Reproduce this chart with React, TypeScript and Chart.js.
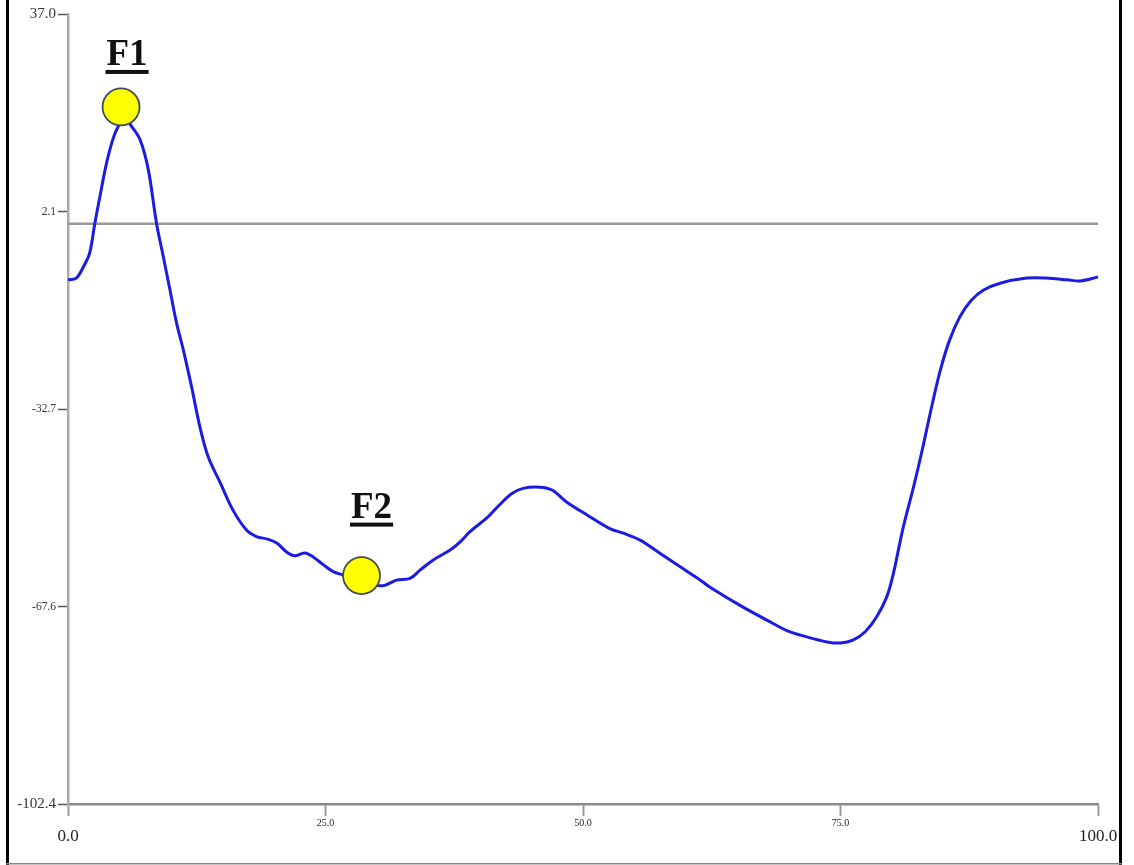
import React, { useEffect, useRef } from "react";
import { Chart, registerables } from "chart.js";

Chart.register(...registerables);

// ---- data ----
const xValues = [
  0, 0.8, 1.5, 2.1, 2.6, 3.1, 3.6, 4.1, 4.7, 5.5, 6.2, 7.0, 7.8, 8.6, 9.25, 9.9,
  10.55, 11.2, 12.0, 12.8, 13.6, 14.8, 16.0, 17.35, 18.3, 19.45, 20.3, 21.2, 22.0,
  23.0, 23.8, 24.8, 25.75, 26.7, 28.5, 30.5, 31.9, 33.2, 34.2, 35.5, 37.1, 38.1,
  39.0, 40.8, 41.9, 43.1, 44.2, 45.8, 47.0, 48.4, 50.4, 52.6, 53.9, 55.5, 57.5,
  59.4, 61.4, 62.3, 65.2, 67.8, 69.8, 71.7, 73.7, 75.0, 76.2, 77.4, 78.5, 79.5,
  80.1, 81.1, 82.1, 83.0, 83.85, 84.7, 85.6, 86.6, 87.7, 88.9, 90.5, 93.1, 95.0,
  97.0, 98.3, 100,
];
const yValues = [
  -9.9, -9.6, -7.6, -5.2, 0.0, 4.8, 9.5, 13.3, 16.5, 18.6, 17.1, 14.8, 9.5, 0.0,
  -5.8, -11.7, -17.6, -22.3, -28.8, -35.8, -41.1, -45.8, -50.5, -54.1, -55.2,
  -55.7, -56.4, -57.9, -58.6, -58.1, -58.8, -60.2, -61.4, -62.0, -63.2, -63.9,
  -62.9, -62.6, -61.1, -59.3, -57.6, -56.1, -54.4, -51.7, -49.6, -47.6, -46.7,
  -46.5, -47.0, -49.1, -51.4, -53.8, -54.6, -55.8, -58.2, -60.5, -62.9, -64.1,
  -67.3, -69.9, -71.8, -72.9, -73.8, -74.0, -73.5, -72.0, -69.4, -65.8, -62.0,
  -53.5, -46.4, -39.4, -32.3, -25.8, -20.5, -16.4, -13.5, -11.7, -10.5, -9.6,
  -9.6, -9.9, -10.1, -9.4,
];
const markerX = [5.15, 28.5];
const markerY = [20.6, -62.1];
const markerLabels = ["F1", "F2"];
const referenceY = 0;
const xTicks = [0, 25, 50, 75, 100];
const yTicks = [-102.4, -67.6, -32.7, 2.1, 37.0];

const SERIF = "'Liberation Serif', 'Times New Roman', serif";

export default function App() {
  const canvasRef = useRef<HTMLCanvasElement | null>(null);

  useEffect(() => {
    const canvas = canvasRef.current;
    if (!canvas) return;

    const labelOffsets = [
      { dx: 6, dy: -42 },
      { dx: 10, dy: -58 },
    ];

    const labelPlugin = {
      id: "markerLabels",
      afterDatasetsDraw(chart: any) {
        const meta = chart.getDatasetMeta(2);
        const ctx = chart.ctx;
        ctx.save();
        ctx.font = `bold 37px ${SERIF}`;
        ctx.fillStyle = "#111";
        ctx.textAlign = "center";
        ctx.textBaseline = "alphabetic";
        meta.data.forEach((pt: any, i: number) => {
          const off = labelOffsets[i];
          const cx = pt.x + off.dx;
          const by = pt.y + off.dy;
          const text = markerLabels[i];
          ctx.fillText(text, cx, by);
          const w = ctx.measureText(text).width;
          ctx.fillRect(cx - w / 2 - 1, by + 5, w + 2, 4);
        });
        ctx.restore();
      },
    };

    const framePlugin = {
      id: "frame",
      afterDraw(chart: any) {
        const ctx = chart.ctx;
        ctx.save();
        ctx.fillStyle = "#000";
        ctx.fillRect(6, 0, 3, 865);
        ctx.fillRect(1119, 0, 3, 865);
        ctx.fillStyle = "#888";
        ctx.fillRect(6, 863, 1116, 1.5);
        ctx.restore();
      },
    };

    const lineData = xValues.map((x, i) => ({ x, y: yValues[i] }));
    const refData = [
      { x: xTicks[0], y: referenceY },
      { x: xTicks[xTicks.length - 1], y: referenceY },
    ];
    const markerData = markerX.map((x, i) => ({ x, y: markerY[i] }));

    const chart = new Chart(canvas, {
      type: "line",
      data: {
        datasets: [
          {
            data: refData,
            borderColor: "#999",
            borderWidth: 2.5,
            pointRadius: 0,
            order: 3,
          },
          {
            data: lineData,
            borderColor: "#1c1ce0",
            borderWidth: 3,
            pointRadius: 0,
            tension: 0.35,
            order: 2,
          },
          {
            data: markerData,
            showLine: false,
            pointRadius: 18.5,
            pointBackgroundColor: "#ffff00",
            pointBorderColor: "#3f4a5c",
            pointBorderWidth: 1.8,
            clip: false,
            order: 1,
          } as any,
        ],
      },
      options: {
        animation: false,
        responsive: false,
        layout: {
          autoPadding: false,
          padding: { left: 0, right: 36, top: 14, bottom: 0 },
        },
        plugins: {
          legend: { display: false },
          tooltip: { enabled: false },
        },
        scales: {
          x: {
            type: "linear",
            min: 0,
            max: 100,
            afterBuildTicks: (scale: any) => {
              scale.ticks = xTicks.map((v) => ({ value: v }));
            },
            afterFit: (scale: any) => {
              scale.height = 61;
            },
            grid: {
              drawOnChartArea: false,
              drawTicks: true,
              tickLength: 12,
              tickColor: "#999",
              tickWidth: 2,
            } as any,
            border: { display: true, color: "#888", width: 2.5 },
            ticks: {
              padding: 1,
              color: "#222",
              maxRotation: 0,
              autoSkip: false,
              callback: (v: any, i: number) => {
                const s = Number(v).toFixed(1);
                return i === 0 || i === xTicks.length - 1 ? ["", s] : s;
              },
              font: (ctx: any) =>
                ctx.index === 0 || ctx.index === xTicks.length - 1
                  ? { family: SERIF, size: 17, lineHeight: "13px" }
                  : { family: SERIF, size: 10, lineHeight: 1.2 },
            },
          },
          y: {
            type: "linear",
            min: yTicks[0],
            max: yTicks[yTicks.length - 1],
            afterBuildTicks: (scale: any) => {
              scale.ticks = yTicks.map((v) => ({ value: v }));
            },
            afterFit: (scale: any) => {
              scale.width = 68;
            },
            grid: {
              drawOnChartArea: false,
              drawTicks: true,
              tickLength: 10,
              tickColor: "#555",
              tickWidth: 1.5,
            } as any,
            border: { display: true, color: "#aaa", width: 2.5 },
            ticks: {
              padding: 2,
              color: "#333",
              autoSkip: false,
              callback: (v: any) => Number(v).toFixed(1),
              font: (ctx: any) =>
                ctx.index === 0 || ctx.index === yTicks.length - 1
                  ? { family: SERIF, size: 15, lineHeight: "12px" }
                  : { family: SERIF, size: 11.5, lineHeight: "12px" },
            },
          },
        },
      },
      plugins: [labelPlugin, framePlugin],
    });

    return () => {
      chart.destroy();
    };
  }, []);

  return (
    <div
      style={{
        position: "absolute",
        left: 0,
        top: 0,
        width: 1134,
        height: 865,
        background: "#fff",
      }}
    >
      <canvas
        ref={canvasRef}
        width={1134}
        height={865}
        style={{ display: "block", width: 1134, height: 865 }}
      />
    </div>
  );
}
